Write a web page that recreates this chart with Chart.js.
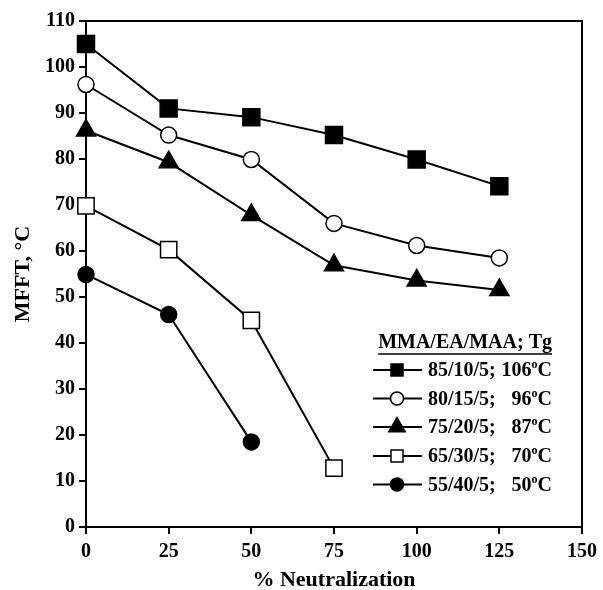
<!DOCTYPE html>
<html>
<head>
<meta charset="utf-8">
<script src="https://cdn.jsdelivr.net/npm/chart.js@4/dist/chart.umd.min.js"></script>
<style>
  html,body{margin:0;padding:0;background:#fff;}
  #wrap{width:603px;height:590px;position:relative;}
</style>
</head>
<body>
<div id="wrap"><canvas id="c" width="603" height="590"></canvas></div>
<script>
// ---- data ----
const neutralization = [0, 25, 50, 75, 100, 125];
const series85 = [105, 91, 89.1, 85.2, 79.9, 74.1];
const series80 = [96.2, 85.2, 79.9, 66.0, 61.2, 58.5];
const series75 = [86.2, 79.3, 67.8, 56.9, 53.6, 51.5];
const series65 = [69.8, 60.3, 44.9, 12.8];
const series55 = [54.9, 46.2, 18.5];
const seriesCompositions = ["85/10/5;", "80/15/5;", "75/20/5;", "65/30/5;", "55/40/5;"];
const seriesTg = ["106", "96", "87", "70", "50"];
const legendTitle = "MMA/EA/MAA; Tg";
const xTicks = [0, 25, 50, 75, 100, 125, 150];
const yTicks = [0, 10, 20, 30, 40, 50, 60, 70, 80, 90, 100, 110];

const FONT = "'Liberation Serif', 'Times New Roman', serif";

function pts(vals){ return vals.map((v,i)=>({x: neutralization[i], y: v})); }

const styles = [
  {pointStyle:'rect', radius:12, fill:'#000', lr:8.5},
  {pointStyle:'circle', radius:8, fill:'#fff', lr:6.5},
  {pointStyle:'triangle', radius:11, fill:'#000', lr:9.5},
  {pointStyle:'rect', radius:11.5, fill:'#fff', lr:8.5},
  {pointStyle:'circle', radius:8, fill:'#000', lr:6.5}
];
const allSeries = [series85, series80, series75, series65, series55];

const datasets = allSeries.map((s,i)=>({
  label: seriesCompositions[i] + " " + seriesTg[i] + "°C",
  data: pts(s),
  borderColor: '#000',
  borderWidth: 2,
  backgroundColor: styles[i].fill,
  pointStyle: styles[i].pointStyle,
  pointRadius: styles[i].radius,
  pointBackgroundColor: styles[i].fill,
  pointBorderColor: '#000',
  pointBorderWidth: 1.5,
  tension: 0,
  clip: false
}));

const framePlugin = {
  id: 'frame',
  afterDraw(chart){
    const ctx = chart.ctx, a = chart.chartArea;
    ctx.save();
    ctx.strokeStyle = '#000';
    ctx.lineWidth = 2;
    ctx.beginPath();
    ctx.moveTo(a.left, a.top); ctx.lineTo(a.right, a.top); ctx.lineTo(a.right, a.bottom);
    ctx.stroke();
    // legend
    const lx0 = 373, lx1 = 422, mx = 397, tx = 428, rx = 552;
    ctx.fillStyle = '#000';
    ctx.font = "bold 20px " + FONT;
    ctx.textBaseline = 'alphabetic';
    ctx.textAlign = 'right';
    ctx.fillText(legendTitle, rx, 348);
    const tw = ctx.measureText(legendTitle).width;
    ctx.lineWidth = 1.5;
    ctx.beginPath(); ctx.moveTo(rx - tw, 354); ctx.lineTo(rx, 354); ctx.stroke();
    const rowY = [370, 398.5, 427, 456, 484.5];
    chart.data.datasets.forEach((ds, i) => {
      const y = rowY[i];
      ctx.lineWidth = 2;
      ctx.strokeStyle = '#000';
      ctx.beginPath(); ctx.moveTo(lx0, y); ctx.lineTo(lx1, y); ctx.stroke();
      ctx.fillStyle = ds.pointBackgroundColor;
      ctx.strokeStyle = '#000';
      ctx.lineWidth = 1.5;
      Chart.helpers.drawPoint(ctx, {pointStyle: ds.pointStyle, radius: styles[i].lr, borderWidth: 1.5, rotation: 0}, mx, y);
      ctx.fillStyle = '#000';
      ctx.font = "bold 20px " + FONT;
      ctx.textAlign = 'left';
      const base = y + 6;
      ctx.fillText(seriesCompositions[i], tx, base);
      ctx.textAlign = 'right';
      const cW = ctx.measureText('C').width;
      ctx.fillText('C', rx, base);
      ctx.font = "bold 12px " + FONT;
      const oW = ctx.measureText('o').width;
      ctx.fillText('o', rx - cW, base - 8);
      ctx.font = "bold 20px " + FONT;
      ctx.fillText(seriesTg[i], rx - cW - oW, base);
    });
    ctx.restore();
  }
};

new Chart(document.getElementById('c'), {
  type: 'line',
  data: { datasets },
  plugins: [framePlugin],
  options: {
    responsive: false,
    animation: false,
    layout: { padding: { top: 21, right: 15, left: 0, bottom: 0 } },
    plugins: { legend: { display: false }, tooltip: { enabled: false } },
    scales: {
      x: {
        type: 'linear', min: 0, max: 150,
        afterFit(s){ s.height = 63; },
        afterBuildTicks(s){ s.ticks = xTicks.map(v=>({value:v})); },
        grid: { display: true, drawOnChartArea: false, tickLength: 7, color: '#000', lineWidth: 2 },
        border: { display: true, color: '#000', width: 2 },
        ticks: { color: '#000', padding: 6, font: { family: FONT, size: 20, weight: 'bold' }, maxRotation: 0 },
        title: { display: true, text: '% Neutralization', color: '#000', padding: { top: 0, bottom: 0 }, font: { family: FONT, size: 22, weight: 'bold', lineHeight: 0.9 } }
      },
      y: {
        type: 'linear', min: 0, max: 110,
        afterFit(s){ s.width = 86; },
        afterBuildTicks(s){ s.ticks = yTicks.map(v=>({value:v})); },
        grid: { display: true, drawOnChartArea: false, tickLength: 7, color: '#000', lineWidth: 2 },
        border: { display: true, color: '#000', width: 2 },
        ticks: { color: '#000', padding: 4, font: { family: FONT, size: 20, weight: 'bold' } },
        title: { display: true, text: 'MFFT, °C', color: '#000', padding: { top: 10, bottom: 0 }, font: { family: FONT, size: 22, weight: 'bold' } }
      }
    }
  }
});
</script>
</body>
</html>
